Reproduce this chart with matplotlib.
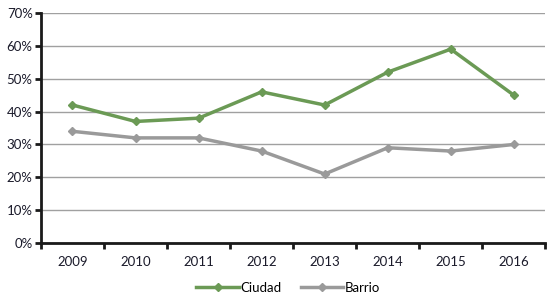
import matplotlib.pyplot as plt
from matplotlib.ticker import FuncFormatter, FixedLocator

plt.rcParams['font.family'] = ['Lato', 'DejaVu Sans']

years = ['2009', '2010', '2011', '2012', '2013', '2014', '2015', '2016']
ciudad = [42, 37, 38, 46, 42, 52, 59, 45]
barrio = [34, 32, 32, 28, 21, 29, 28, 30]

green = '#6b9a55'
grey = '#9a9a9a'

fig = plt.figure(figsize=(5.5, 2.95), dpi=100)
ax = fig.add_axes([0.0745, 0.176, 0.917, 0.78])

x = range(len(years))
ax.plot(x, ciudad, color=green, lw=2.5, marker='D', ms=4.5, label='Ciudad', zorder=3)
ax.plot(x, barrio, color=grey, lw=2.5, marker='D', ms=4.5, label='Barrio', zorder=3)

ax.set_xlim(-0.5, len(years) - 0.5)
ax.set_ylim(0, 70)
ax.set_yticks(range(0, 71, 10))
ax.yaxis.set_major_formatter(FuncFormatter(lambda v, p: f'{v:.0f}%'))
ax.set_xticks(list(x))
ax.set_xticklabels(years)
ax.xaxis.set_minor_locator(FixedLocator([i - 0.5 for i in range(len(years) + 1)]))
ax.tick_params(axis='x', which='major', length=0, pad=9, labelsize=9.5, colors='#1a1a2a')
ax.tick_params(axis='x', which='minor', length=4, width=2, color='#1a1a1a')
ax.tick_params(axis='y', length=4, width=2, color='#1a1a1a', labelsize=9.5, labelcolor='#1a1a2a', pad=2)

ax.grid(axis='y', color='#a0a0a0', lw=1)
ax.set_axisbelow(True)
for s in ['top', 'right']:
    ax.spines[s].set_visible(False)
for s in ['left', 'bottom']:
    ax.spines[s].set_linewidth(2)
    ax.spines[s].set_color('#1a1a1a')

ax.legend(loc='center', bbox_to_anchor=(0.49, -0.195), ncol=2, frameon=False,
          fontsize=9.5, handlelength=3.2, handletextpad=0.1, columnspacing=1.5,
          borderpad=0)

fig.savefig('out.png', dpi=100)
